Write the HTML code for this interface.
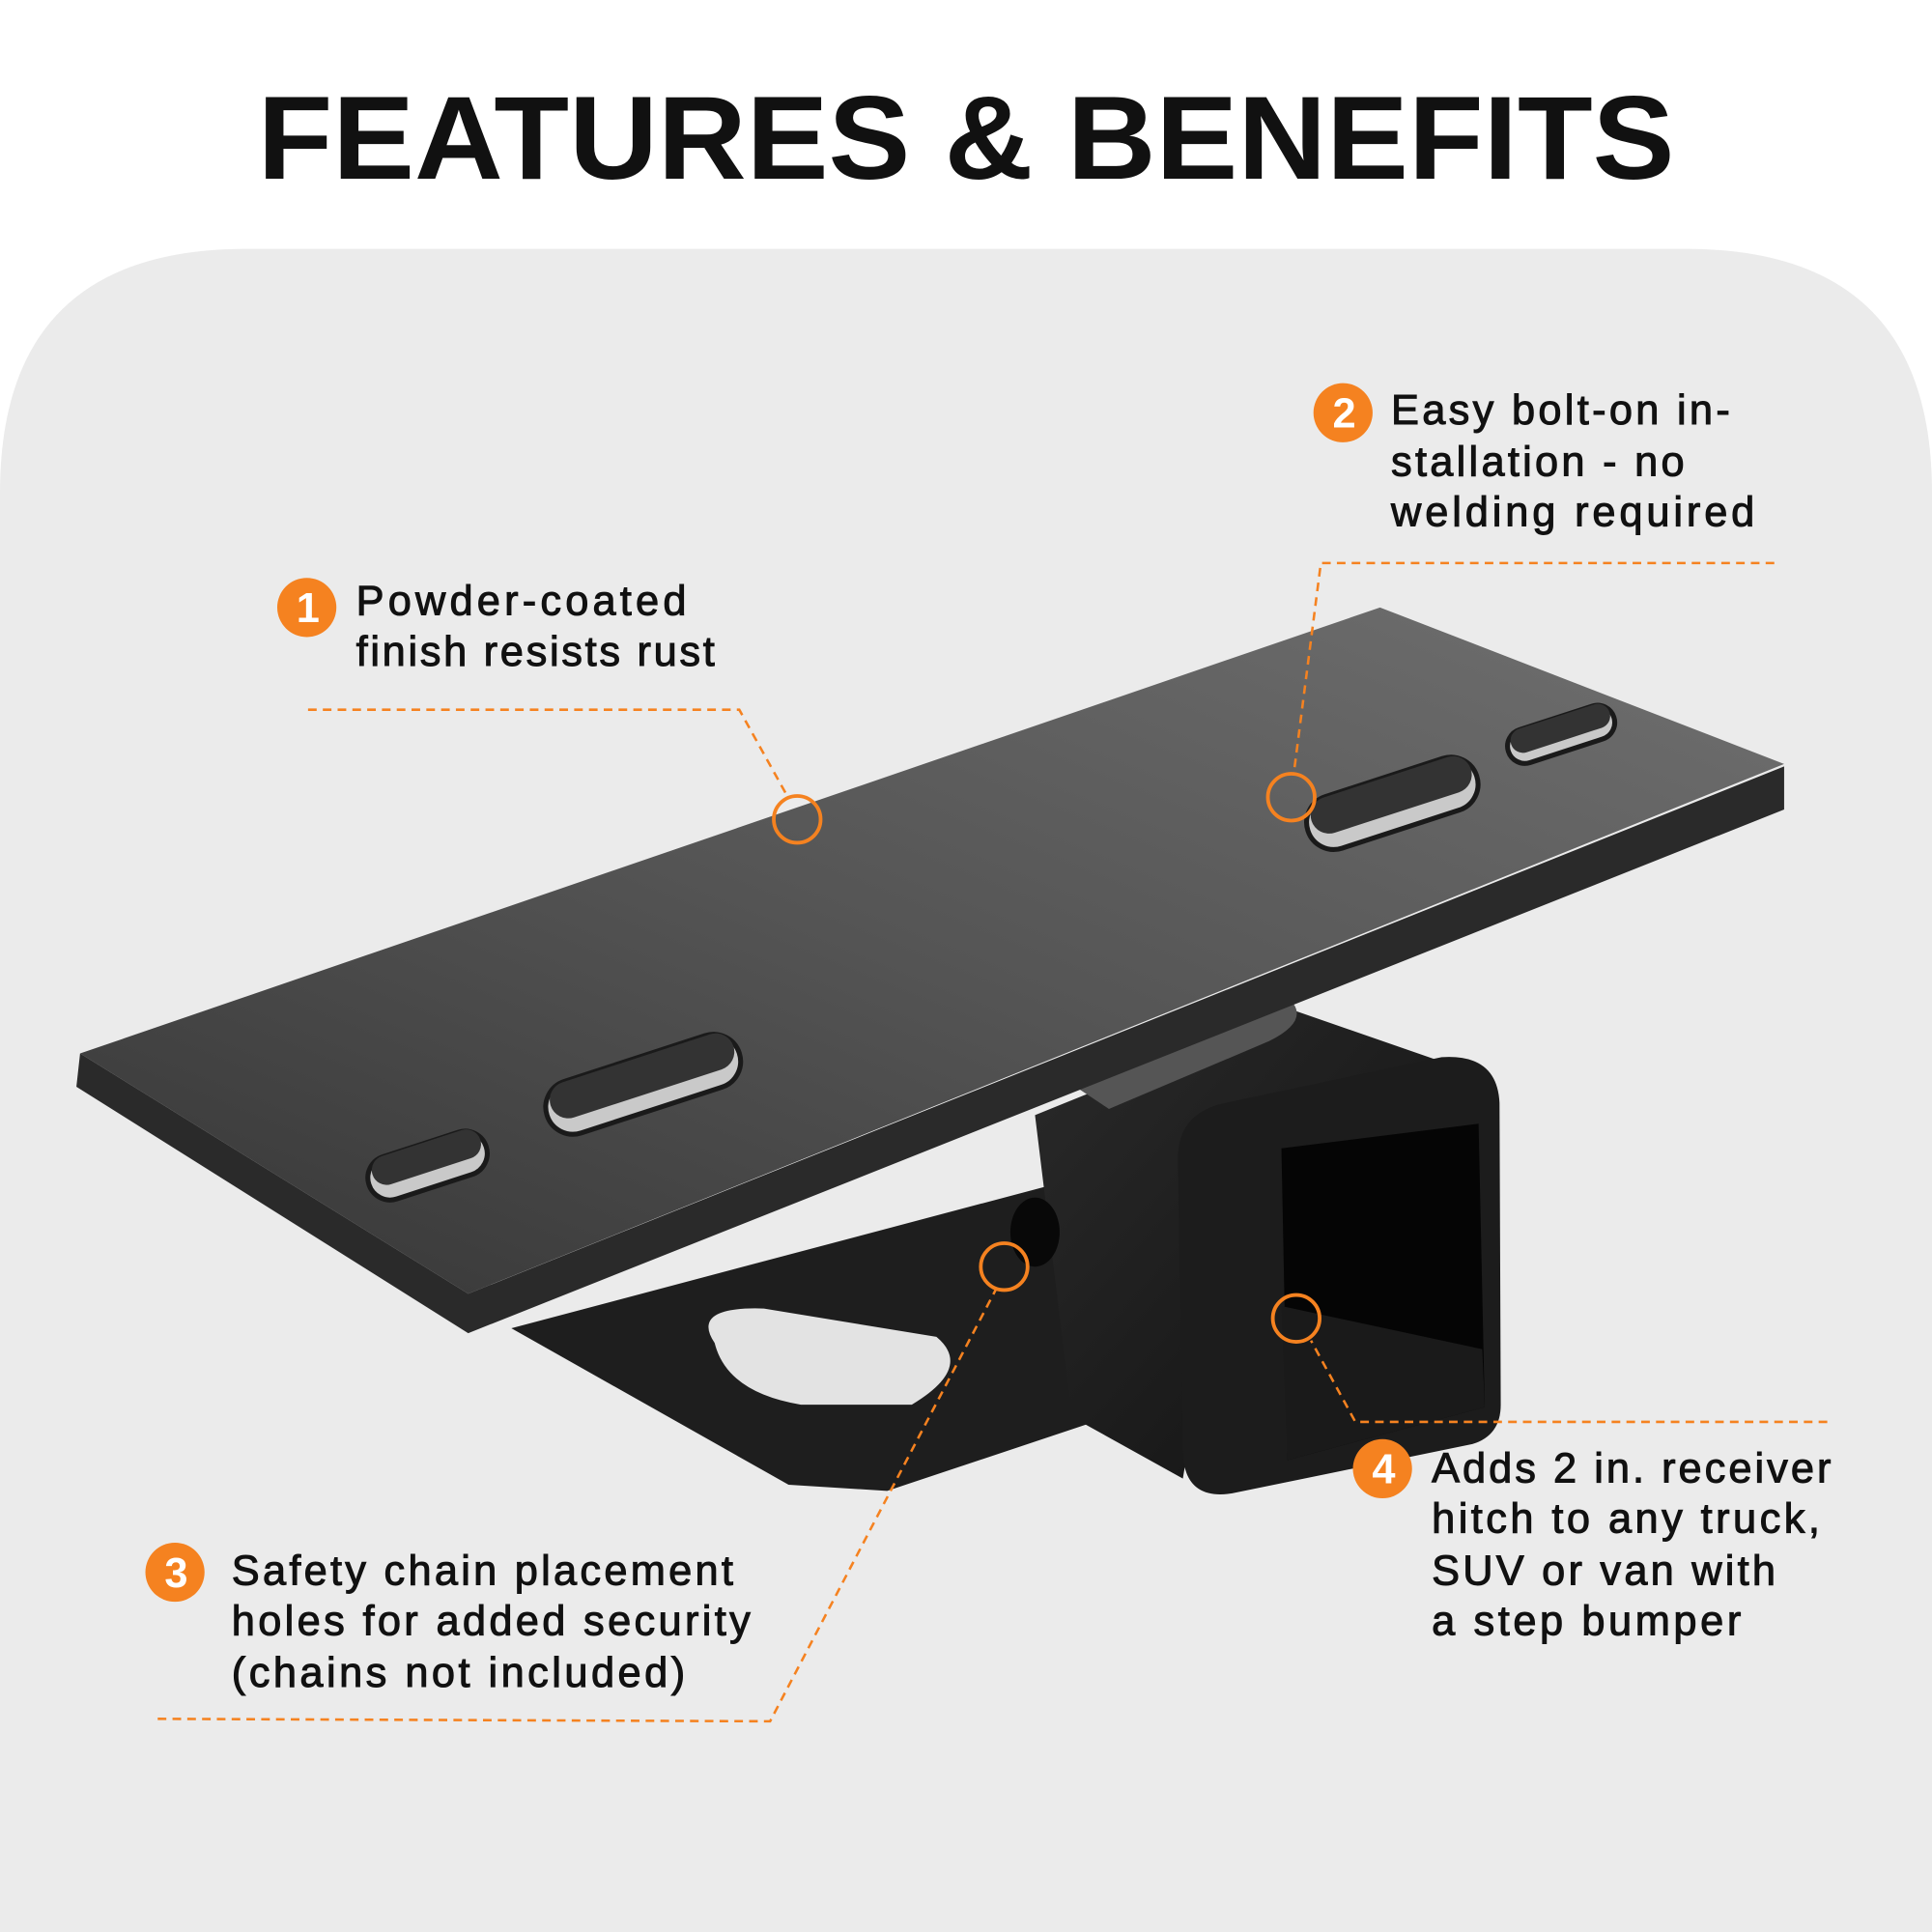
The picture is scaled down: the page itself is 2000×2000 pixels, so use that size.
<!DOCTYPE html>
<html><head><meta charset="utf-8"><style>
html,body{margin:0;padding:0;background:#fff;}
svg{display:block;}
</style></head><body>
<svg width="2000" height="2000" viewBox="0 0 1568 1568" xmlns="http://www.w3.org/2000/svg">
<defs>
<linearGradient id="plate" x1="0" y1="1" x2="1" y2="0">
<stop offset="0" stop-color="#353535"/><stop offset="0.5" stop-color="#555"/><stop offset="1" stop-color="#707070"/>
</linearGradient>
<linearGradient id="tube" x1="0" y1="0" x2="1" y2="1">
<stop offset="0" stop-color="#2a2a2a"/><stop offset="1" stop-color="#111"/>
</linearGradient>
</defs>
<rect width="1568" height="1568" fill="#fff"/>
<path d="M0 1568 V400 Q0 202 200 202 H1368 Q1568 202 1568 400 V1568 Z" fill="#ebebeb"/>
<text x="784" y="145" text-anchor="middle" font-family="Liberation Sans, sans-serif" font-weight="bold" font-size="96" fill="#111" textLength="1150" lengthAdjust="spacingAndGlyphs">FEATURES &amp; BENEFITS</text>

<!-- lower bracket -->
<path d="M415 1078 L640 1205 L720 1210 L900 1150 L990 1110 L980 990 L860 960 Z" fill="#1e1e1e"/>
<path d="M580 1090 Q560 1060 620 1062 L760 1085 Q790 1110 740 1140 L650 1140 Q590 1130 580 1090 Z" fill="#e3e3e3"/>
<!-- receiver tube -->
<path d="M840 905 L1050 820 L1180 865 L1000 960 L960 1200 L870 1150 Z" fill="url(#tube)"/>
<path d="M870 880 Q900 850 940 845 L1050 815 Q1060 830 1030 845 L900 900 Z" fill="#555"/>
<path d="M995 895 L1170 858 Q1215 855 1217 895 L1218 1140 Q1218 1165 1195 1172 L1000 1212 Q962 1218 960 1180 L956 940 Q956 903 995 895 Z" fill="#1c1c1c"/>
<path d="M1040 932 L1200 912 L1205 1142 L1045 1185 Z" fill="#050505"/>
<path d="M1040 1060 L1203 1095 L1205 1142 L1045 1185 Z" fill="#1a1a1a"/>
<ellipse cx="840" cy="1000" rx="20" ry="28" fill="#080808"/>

<!-- plate -->
<path d="M65 855 L380 1050 L1448 622 L1448 657 L380 1082 L62 882 Z" fill="#2a2a2a"/>
<path d="M65 855 L1120 493 L1448 620 L380 1050 Z" fill="url(#plate)"/>
<!-- slots/holes -->
<g fill="#c9c9c9" stroke="#1a1a1a" stroke-width="4">
<rect x="-82" y="-22" width="164" height="44" rx="22" transform="translate(522 880) rotate(-18)"/>
<rect x="-50" y="-18" width="100" height="36" rx="18" transform="translate(347 946) rotate(-18)"/>
<rect x="-72" y="-22" width="144" height="44" rx="22" transform="translate(1130 652) rotate(-18)"/>
<rect x="-45" y="-14" width="90" height="28" rx="14" transform="translate(1267 596) rotate(-18)"/>
</g>
<g fill="#333">
<rect x="-78" y="-18" width="156" height="30" rx="15" transform="translate(522 876) rotate(-18)"/>
<rect x="-46" y="-15" width="92" height="24" rx="12" transform="translate(347 942) rotate(-18)"/>
<rect x="-68" y="-18" width="136" height="30" rx="15" transform="translate(1130 648) rotate(-18)"/>
<rect x="-42" y="-12" width="84" height="20" rx="10" transform="translate(1267 593) rotate(-18)"/>
</g>

<!-- callout lines -->
<g fill="none" stroke="#f58220" stroke-width="2" stroke-dasharray="7 5">
<polyline points="250,576 600,576 640,648"/>
<polyline points="1440,457 1072,457 1050,628"/>
<polyline points="128,1395 625,1397 808,1047"/>
<polyline points="1483,1154 1100,1154 1064,1088"/>
</g>
<g fill="none" stroke="#f58220" stroke-width="3">
<circle cx="647" cy="665" r="19"/>
<circle cx="1048" cy="647" r="19"/>
<circle cx="815" cy="1028" r="19"/>
<circle cx="1052" cy="1070" r="19"/>
</g>
<g fill="#f58220">
<circle cx="249" cy="493" r="24"/>
<circle cx="1090" cy="335" r="24"/>
<circle cx="142" cy="1276" r="24"/>
<circle cx="1122" cy="1192" r="24"/>
</g>
<g fill="#fff" font-family="Liberation Sans, sans-serif" font-weight="bold" font-size="34" text-anchor="middle">
<text x="250" y="505">1</text>
<text x="1091" y="347">2</text>
<text x="143" y="1288">3</text>
<text x="1123" y="1204">4</text>
</g>
<g fill="#111" font-family="Liberation Sans, sans-serif" font-size="34" stroke="#111" stroke-width="0.8" lengthAdjust="spacingAndGlyphs">
<text x="289" y="499" textLength="268">Powder-coated</text>
<text x="289" y="540" textLength="291">finish resists rust</text>
<text x="1129" y="344" textLength="275">Easy bolt-on in-</text>
<text x="1129" y="386" textLength="238">stallation - no</text>
<text x="1129" y="427" textLength="295">welding required</text>
<text x="188" y="1286" textLength="407">Safety chain placement</text>
<text x="188" y="1327" textLength="421">holes for added security</text>
<text x="188" y="1369" textLength="368">(chains not included)</text>
<text x="1162" y="1203" textLength="324">Adds 2 in. receiver</text>
<text x="1162" y="1244" textLength="315">hitch to any truck,</text>
<text x="1162" y="1286" textLength="279">SUV or van with</text>
<text x="1162" y="1327" textLength="251">a step bumper</text>
</g>
</svg>
</body></html>
